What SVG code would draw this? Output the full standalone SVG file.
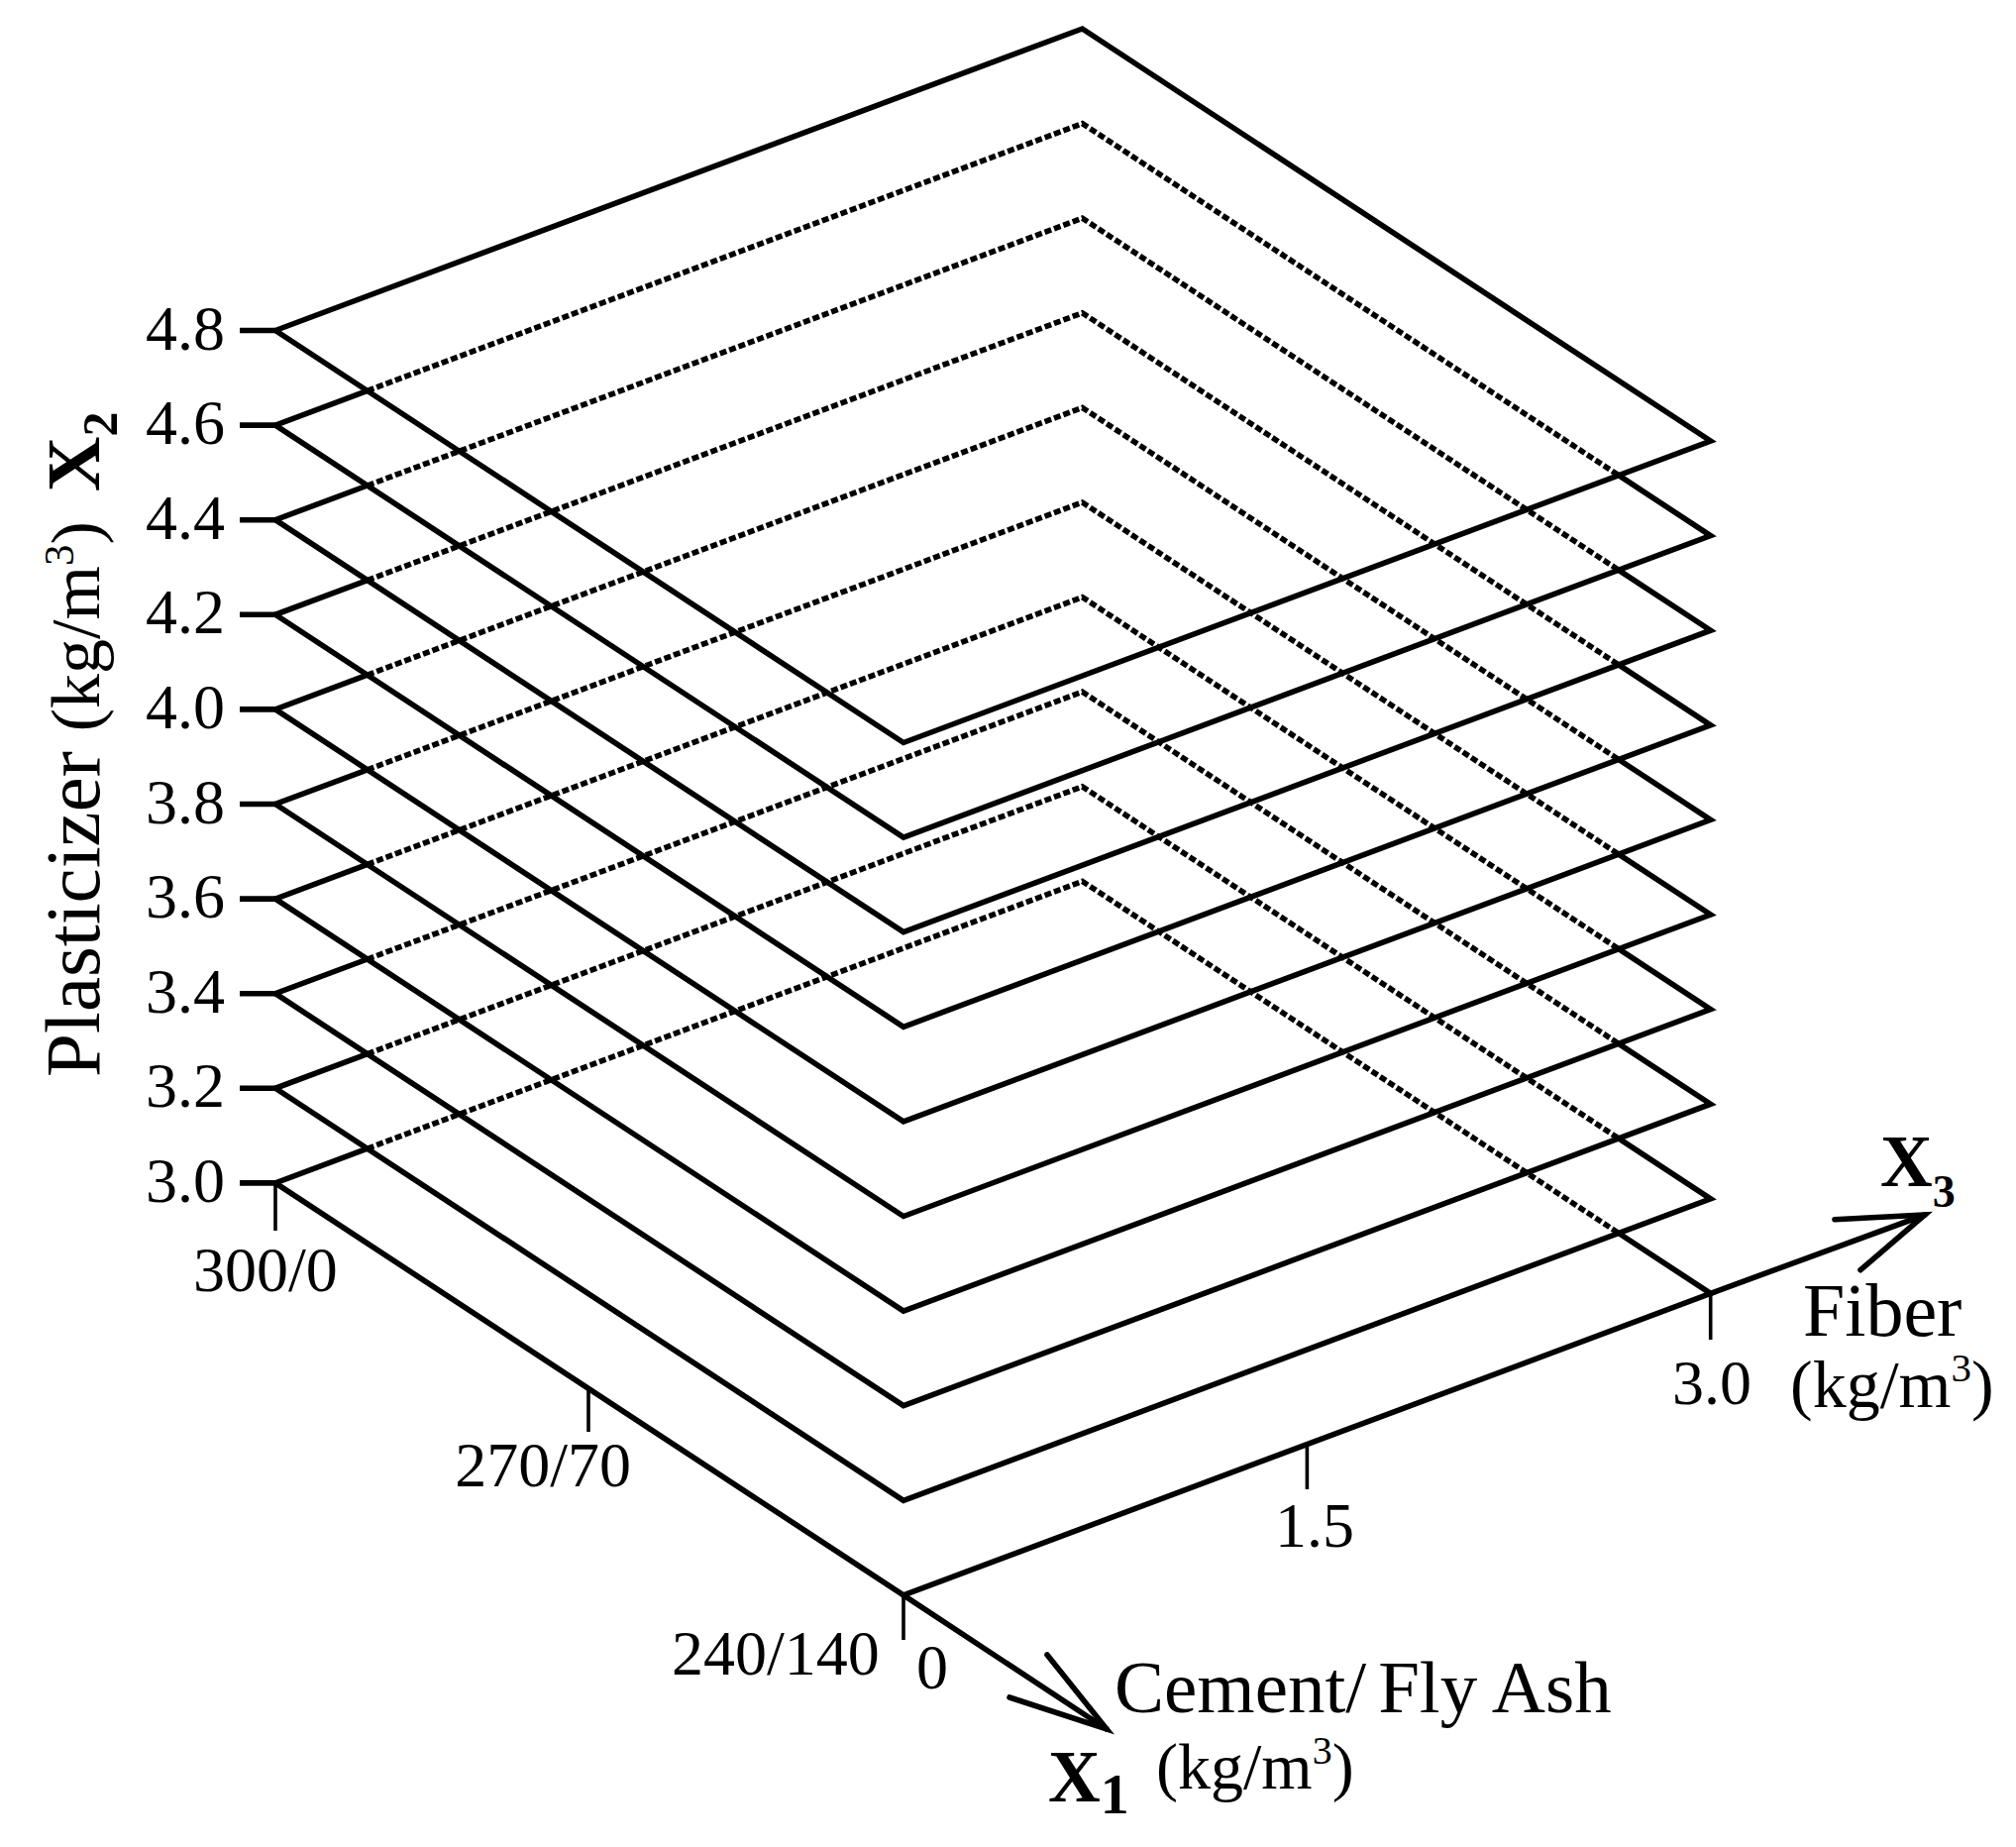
<svg xmlns="http://www.w3.org/2000/svg" xmlns:xlink="http://www.w3.org/1999/xlink" width="2035" height="1864" viewBox="0 0 2035 1864">
<style>
.s{fill:none;stroke:#000;stroke-width:5.6;stroke-linejoin:miter}
.d{fill:none;stroke:#000;stroke-width:5.6;stroke-dasharray:7 3}
.tk{fill:none;stroke:#000;stroke-width:3.6}
.ax{fill:none;stroke:#000;stroke-width:5.6;stroke-linecap:round;stroke-linejoin:miter}
text{font-family:"Liberation Serif","Times New Roman",serif;fill:#000}
.n{font-size:64px}
.b{font-weight:bold}
</style>
<defs>
<g id="lower">
<path class="d" d="M370.8,298.8 L1092.5,29 L1633.9,384.1"/>
<path class="s" d="M1633.9,384.1 L1726.7,445 L912,749.5 L278,333.5 L370.8,298.8"/>
</g>
</defs>
<rect width="2035" height="1864" fill="#fff"/>
<g id="planes">
<g id="plane-4.8"><path class="s" d="M278,333.5 L1092.5,29 L1726.7,445 L912,749.5 Z"/></g>
<g id="plane-4.6"><use xlink:href="#lower" href="#lower" transform="translate(0,95.6)"/></g>
<g id="plane-4.4"><use xlink:href="#lower" href="#lower" transform="translate(0,191.2)"/></g>
<g id="plane-4.2"><use xlink:href="#lower" href="#lower" transform="translate(0,286.8)"/></g>
<g id="plane-4.0"><use xlink:href="#lower" href="#lower" transform="translate(0,382.4)"/></g>
<g id="plane-3.8"><use xlink:href="#lower" href="#lower" transform="translate(0,478)"/></g>
<g id="plane-3.6"><use xlink:href="#lower" href="#lower" transform="translate(0,573.6)"/></g>
<g id="plane-3.4"><use xlink:href="#lower" href="#lower" transform="translate(0,669.2)"/></g>
<g id="plane-3.2"><use xlink:href="#lower" href="#lower" transform="translate(0,764.8)"/></g>
<g id="plane-3.0"><use xlink:href="#lower" href="#lower" transform="translate(0,860.4)"/></g>
</g>
<g id="connectors">
<path class="s" d="M242,333.5H278 M242,429.1H278 M242,524.7H278 M242,620.3H278 M242,715.9H278 M242,811.5H278 M242,907.1H278 M242,1002.7H278 M242,1098.3H278 M242,1193.9H278"/>
<path class="tk" d="M278,1193.9V1242 M594,1402V1445 M912,1609.9V1655 M1319.4,1457.7V1503 M1726.7,1305.4V1352"/>
<g id="axis-x1">
<path class="ax" d="M912,1609.9 L1117,1745"/>
<path class="ax" d="M1057,1670 L1117,1745 L1019,1713"/>
</g>
<g id="axis-x3">
<path class="ax" d="M1726.7,1305.4 L1943,1226"/>
<path class="ax" d="M1852,1230.7 L1943,1226 L1878,1281.7"/>
</g>
</g>
<g id="labels-x2">
<text class="n" x="227" y="352.5" text-anchor="end">4.8</text>
<text class="n" x="227" y="448.1" text-anchor="end">4.6</text>
<text class="n" x="227" y="543.7" text-anchor="end">4.4</text>
<text class="n" x="227" y="639.3" text-anchor="end">4.2</text>
<text class="n" x="227" y="734.9" text-anchor="end">4.0</text>
<text class="n" x="227" y="830.5" text-anchor="end">3.8</text>
<text class="n" x="227" y="926.1" text-anchor="end">3.6</text>
<text class="n" x="227" y="1021.7" text-anchor="end">3.4</text>
<text class="n" x="227" y="1117.3" text-anchor="end">3.2</text>
<text class="n" x="227" y="1212.9" text-anchor="end">3.0</text>
<text transform="translate(100,1087) rotate(-90)" x="0" y="0" font-size="79">Plasticizer <tspan font-size="70">(kg/m</tspan><tspan font-size="43" dy="-26">3</tspan><tspan font-size="70" dy="26">)</tspan><tspan class="b" font-size="77" dx="30">X</tspan><tspan class="b" font-size="50" dy="18">2</tspan></text>
</g>
<g id="labels-x1">
<text class="n" x="195" y="1303">300/0</text>
<text class="n" x="637" y="1500" text-anchor="end">270/70</text>
<text class="n" x="678" y="1690">240/140</text>
<text class="n" x="925" y="1704">0</text>
<text x="1125" y="1728" font-size="75">Cement/<tspan dx="12">Fly Ash</tspan></text>
<text x="1167" y="1805" font-size="66">(kg/m<tspan font-size="40" dy="-25">3</tspan><tspan dy="25">)</tspan></text>
<text class="b" x="1058" y="1818" font-size="73">X<tspan font-size="58" dy="12">1</tspan></text>
</g>
<g id="labels-x3">
<text class="n" x="1327" y="1561" text-anchor="middle">1.5</text>
<text class="n" x="1728" y="1417" text-anchor="middle">3.0</text>
<text x="1807" y="1420" font-size="68">(kg/m<tspan font-size="41" dy="-26">3</tspan><tspan dy="26">)</tspan></text>
<text x="1820" y="1348" font-size="76">Fiber</text>
<text class="b" x="1898" y="1197" font-size="73">X<tspan font-size="46" dy="21">3</tspan></text>
</g>
</svg>
